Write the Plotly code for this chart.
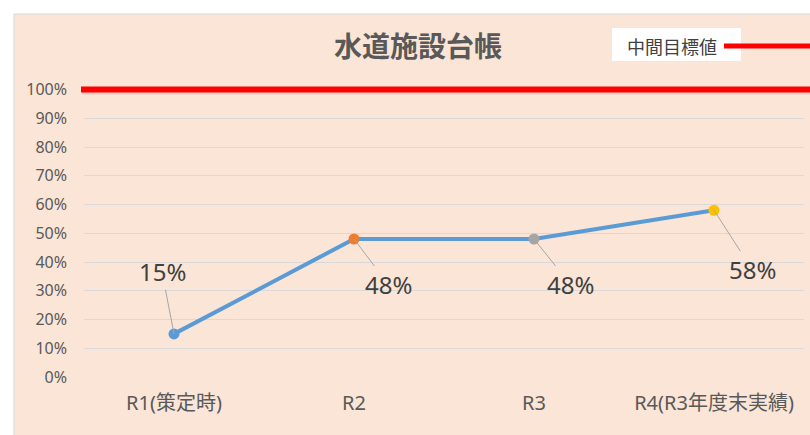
import plotly.graph_objects as go

# ---- data ----
categories = ["R1(策定時)", "R2", "R3", "R4(R3年度末実績)"]
values = [0.15, 0.48, 0.48, 0.58]
marker_colors = ["#5B9BD5", "#ED7D31", "#A5A5A5", "#FFC000"]
target_value = 1.00
target_name = "中間目標値"
title_text = "水道施設台帳"
y_tick_vals = [0, 0.1, 0.2, 0.3, 0.4, 0.5, 0.6, 0.7, 0.8, 0.9, 1.0]
label_offsets = [(-12, -62), (34, 45), (36, 45), (38, 59)]

W, H = 810, 435
L, R, T, B = 84, 6, 78, 58
PW, PH = W - L - R, H - T - B
YMAX = 1.04

def px(x):  # window pixel x -> paper
    return (x - L) / PW

def py(y):  # window pixel y -> paper
    return (H - B - y) / PH

FONT = "Noto Sans, Noto Sans CJK JP, sans-serif"

fig = go.Figure()
fig.add_trace(go.Scatter(
    x=categories, y=values, mode="lines+markers",
    line=dict(color="#5B9BD5", width=4),
    marker=dict(color=marker_colors, size=11, line=dict(width=0)),
    showlegend=False, hoverinfo="skip",
))

target_paper = target_value / YMAX
shapes = [
    # chart area background
    dict(type="rect", xref="paper", yref="paper", x0=px(14), x1=px(815), y0=py(440), y1=py(14),
         fillcolor="#FBE5D6", line=dict(color="#D9D9D9", width=1), layer="below"),
    # target line shadow
    dict(type="line", xref="paper", yref="paper", x0=px(82), x1=px(815),
         y0=target_paper - 3 / PH, y1=target_paper - 3 / PH,
         line=dict(color="rgba(160,160,160,0.35)", width=4), layer="above"),
    # target line
    dict(type="line", xref="paper", yref="y", x0=px(81), x1=px(815), y0=target_value, y1=target_value,
         line=dict(color="#FF0000", width=6), layer="above"),
    # legend box
    dict(type="rect", xref="paper", yref="paper", x0=px(612), x1=px(741), y0=py(61), y1=py(28),
         fillcolor="white", line=dict(width=0), layer="above"),
    dict(type="line", xref="paper", yref="paper", x0=px(724), x1=px(815), y0=py(46), y1=py(46),
         line=dict(color="#FF0000", width=5), layer="above"),
]

annotations = [
    dict(xref="paper", yref="paper", x=px(672), y=py(47), text=target_name, showarrow=False,
         font=dict(size=18, color="#404040", family=FONT), xanchor="center", yanchor="middle"),
]
for c, v, (ax, ay) in zip(categories, values, label_offsets):
    annotations.append(dict(
        x=c, y=v, xref="x", yref="y", text=f"{v:.0%}", showarrow=True,
        arrowhead=0, arrowwidth=1, arrowcolor="#A6A6A6", ax=ax, ay=ay, standoff=0,
        font=dict(size=24, color="#404040", family=FONT),
    ))

fig.update_layout(
    width=W, height=H,
    margin=dict(l=L, r=R, t=T, b=B),
    paper_bgcolor="white", plot_bgcolor="rgba(0,0,0,0)",
    title=dict(text=f"<b>{title_text}</b>", x=418 / W, y=1 - 47 / H,
               xanchor="center", yanchor="middle",
               font=dict(size=28, color="#595959", family=FONT)),
    xaxis=dict(range=[-0.5, 3.5], showgrid=False, zeroline=False, showline=False, ticks="",
               ticklabelstandoff=12,
               tickfont=dict(size=20, color="#595959", family=FONT)),
    yaxis=dict(range=[0, YMAX], tickvals=y_tick_vals, tickformat=".0%", showgrid=True,
               gridcolor="#D9D9D9", gridwidth=1, zeroline=False, showline=False, ticks="",
               ticklabelstandoff=16, tickfont=dict(size=16, color="#595959", family=FONT)),
    shapes=shapes, annotations=annotations, showlegend=False,
)

fig.write_html("out.html", config={"displayModeBar": False},
               post_script="document.body.style.margin='0';document.body.style.overflow='hidden';")
